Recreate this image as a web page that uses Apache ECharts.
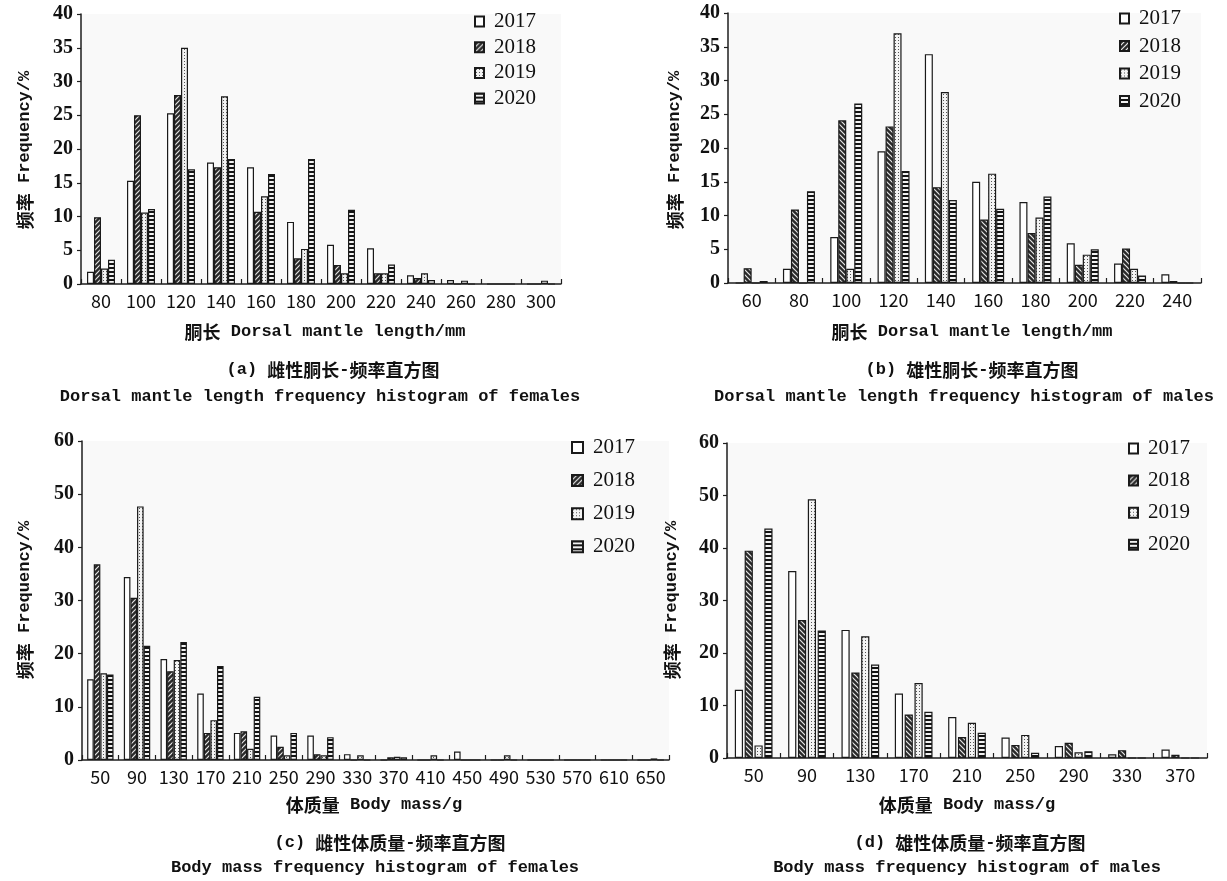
<!DOCTYPE html>
<html><head><meta charset="utf-8">
<script src="https://cdn.jsdelivr.net/npm/echarts@6/dist/echarts.min.js"></script>
<style>html,body{margin:0;padding:0;background:#fff}#c{width:1227px;height:881px}</style>
</head><body><div id="c"></div>
<script>
// ---------- data ----------
const years = ['2017', '2018', '2019', '2020'];

// (a) female dorsal mantle length
const catsA = ['80','100','120','140','160','180','200','220','240','260','280','300'];
const a2017 = [1.8, 15.3, 25.3, 18.0, 17.3, 9.2, 5.8, 5.3, 1.3, 0.6, 0, 0];
const a2018 = [9.9, 25.0, 28.0, 17.3, 10.7, 3.8, 2.8, 1.6, 0.9, 0, 0, 0];
const a2019 = [2.3, 10.6, 35.0, 27.8, 13.0, 5.2, 1.6, 1.6, 1.6, 0.5, 0, 0.5];
const a2020 = [3.6, 11.1, 17.0, 18.5, 16.3, 18.5, 11.0, 2.9, 0.6, 0, 0, 0];

// (b) male dorsal mantle length
const catsB = ['60','80','100','120','140','160','180','200','220','240'];
const b2017 = [0, 2.1, 6.8, 19.5, 33.9, 15.0, 12.0, 5.9, 2.9, 1.3];
const b2018 = [2.2, 10.9, 24.1, 23.2, 14.2, 9.4, 7.4, 2.7, 5.1, 0.3];
const b2019 = [0, 0, 2.1, 37.0, 28.3, 16.2, 9.7, 4.2, 2.1, 0];
const b2020 = [0.3, 13.6, 26.6, 16.6, 12.3, 11.0, 12.8, 5.0, 1.1, 0];

// (c) female body mass
const catsC = ['50','90','130','170','210','250','290','330','370','410','450','490','530','570','610','650'];
const c2017 = [15.2, 34.4, 19.0, 12.5, 5.1, 4.6, 4.6, 1.1, 0, 0, 1.6, 0, 0, 0, 0, 0];
const c2018 = [36.8, 30.5, 16.7, 5.1, 5.4, 2.5, 1.1, 0, 0.5, 0, 0, 0, 0, 0, 0, 0];
const c2019 = [16.3, 47.7, 18.8, 7.5, 2.1, 0.9, 0.9, 0.9, 0.6, 0.9, 0, 0.9, 0, 0, 0, 0.3];
const c2020 = [16.1, 21.5, 22.2, 17.7, 11.9, 5.1, 4.3, 0, 0.5, 0, 0, 0, 0, 0, 0, 0];

// (d) male body mass
const catsD = ['50','90','130','170','210','250','290','330','370'];
const d2017 = [13.0, 35.6, 24.4, 12.3, 7.8, 3.9, 2.3, 0.7, 1.6];
const d2018 = [39.5, 26.3, 16.3, 8.3, 4.0, 2.5, 2.9, 1.5, 0.6];
const d2019 = [2.4, 49.3, 23.2, 14.3, 6.7, 4.4, 1.1, 0, 0];
const d2020 = [43.7, 24.3, 17.8, 8.8, 4.8, 1.0, 1.3, 0, 0];

// ---------- patterns ----------
function hatch(dir) {
  const s = 5, c = document.createElement('canvas');
  c.width = c.height = s;
  const g = c.getContext('2d');
  g.fillStyle = '#2a2a2a'; g.fillRect(0, 0, s, s);
  g.strokeStyle = '#e6e6e6'; g.lineWidth = 1.2; g.beginPath();
  if (dir > 0) {
    g.moveTo(0, s); g.lineTo(s, 0);
    g.moveTo(-1, 1); g.lineTo(1, -1);
    g.moveTo(s - 1, s + 1); g.lineTo(s + 1, s - 1);
  } else {
    g.moveTo(0, 0); g.lineTo(s, s);
    g.moveTo(-1, s - 1); g.lineTo(1, s + 1);
    g.moveTo(s - 1, -1); g.lineTo(s + 1, 1);
  }
  g.stroke();
  return { image: c, repeat: 'repeat' };
}
function dots() {
  const s = 3, c = document.createElement('canvas');
  c.width = c.height = s;
  const g = c.getContext('2d');
  g.fillStyle = '#f3f3f3'; g.fillRect(0, 0, s, s);
  g.fillStyle = '#555'; g.fillRect(1, 1, 1, 1);
  return { image: c, repeat: 'repeat' };
}
function stripes() {
  const s = 4, c = document.createElement('canvas');
  c.width = c.height = s;
  const g = c.getContext('2d');
  g.fillStyle = '#141414'; g.fillRect(0, 0, s, s);
  g.fillStyle = '#f2f2f2'; g.fillRect(0, 1, s, 2);
  return { image: c, repeat: 'repeat' };
}

const panels = [
  { cats: catsA, vals: [a2017, a2018, a2019, a2020], grid: { left: 81, top: 14, width: 480, height: 270 }, max: 40, step: 5, bw: 7, gap: '0%', dir: 1,
    legend: { left: 469, top: 6, gap: 4.7, iw: 9, ih: 10 } },
  { cats: catsB, vals: [b2017, b2018, b2019, b2020], grid: { left: 728, top: 13, width: 473, height: 270 }, max: 40, step: 5, bw: 8, gap: '0%', dir: -1,
    legend: { left: 1114, top: 3, gap: 6.5, iw: 9, ih: 10 } },
  { cats: catsC, vals: [c2017, c2018, c2019, c2020], grid: { left: 82, top: 441, width: 587, height: 319 }, max: 60, step: 10, bw: 6.6, gap: '0%', dir: 1,
    legend: { left: 566, top: 432, gap: 12.1, iw: 11, ih: 11 } },
  { cats: catsD, vals: [d2017, d2018, d2019, d2020], grid: { left: 727, top: 443, width: 480, height: 315 }, max: 60, step: 10, bw: 8.2, gap: '20%', dir: -1,
    legend: { left: 1123, top: 433, gap: 11.1, iw: 9, ih: 10 } }
];

const axisColor = '#1e1e1e';
const serif = "'Liberation Serif', 'DejaVu Serif', serif";
const narrow = "'Liberation Sans Narrow', 'Noto Sans CJK SC', sans-serif";

const grids = [], xAxes = [], yAxes = [], series = [], legends = [];
panels.forEach((p, i) => {
  grids.push(Object.assign({ show: true, backgroundColor: '#f9f9f9', borderWidth: 0 }, p.grid));
  xAxes.push({
    type: 'category', gridIndex: i, data: p.cats,
    axisLine: { show: true, lineStyle: { color: axisColor, width: 1.5 } },
    axisTick: { show: true, inside: true, length: 5, interval: 0, lineStyle: { color: axisColor, width: 1.2 } },
    axisLabel: { interval: 0, margin: 8, color: '#111', fontSize: 18, fontFamily: narrow },
    splitLine: { show: false }
  });
  yAxes.push({
    type: 'value', gridIndex: i, min: 0, max: p.max, interval: p.step,
    axisLine: { show: true, lineStyle: { color: axisColor, width: 1.5 } },
    axisTick: { show: true, inside: false, length: 4, lineStyle: { color: axisColor, width: 1.2 } },
    axisLabel: { margin: 8, color: '#111', fontSize: 20, fontWeight: 'bold', fontFamily: serif },
    splitLine: { show: false }
  });
  const fills = ['#ffffff', hatch(p.dir), dots(), stripes()];
  years.forEach((y, k) => {
    series.push({
      type: 'bar', name: y, xAxisIndex: i, yAxisIndex: i, data: p.vals[k],
      barWidth: p.bw, barGap: p.gap, silent: true,
      itemStyle: { color: fills[k], borderColor: '#1a1a1a', borderWidth: 1.2 }
    });
  });
  legends.push({
    orient: 'vertical', left: p.legend.left, top: p.legend.top, itemGap: p.legend.gap,
    itemWidth: p.legend.iw, itemHeight: p.legend.ih, data: years, selectedMode: false,
    icon: 'rect',
    textStyle: { fontFamily: serif, fontSize: 21, color: '#111', lineHeight: 20, padding: [0, 0, 0, 5] }
  });
});

const rich = {
  cn: { fontFamily: "'Noto Sans CJK SC', sans-serif", fontWeight: 'bold', fontSize: 18, fill: '#111' },
  en: { fontFamily: "'Liberation Mono', 'DejaVu Sans Mono', monospace", fontWeight: 'bold', fontSize: 17, fill: '#111' }
};
function txt(x, y, s, rot) {
  return {
    type: 'text', x: x, y: y, rotation: rot || 0, silent: true,
    style: { text: s, rich: rich, align: 'center', verticalAlign: 'middle', fill: '#111' }
  };
}
const graphics = [
  txt(25, 150, '{cn|频率}{en| Frequency/%}', Math.PI / 2),
  txt(675, 150, '{cn|频率}{en| Frequency/%}', Math.PI / 2),
  txt(25, 600, '{cn|频率}{en| Frequency/%}', Math.PI / 2),
  txt(672, 600, '{cn|频率}{en| Frequency/%}', Math.PI / 2),

  txt(325, 332, '{cn|胴长}{en| Dorsal mantle length/mm}'),
  txt(333, 370, '{en|(a) }{cn|雌性胴长}{en|-}{cn|频率直方图}'),
  txt(320, 397, '{en|Dorsal mantle length frequency histogram of females}'),

  txt(972, 332, '{cn|胴长}{en| Dorsal mantle length/mm}'),
  txt(972, 370, '{en|(b) }{cn|雄性胴长}{en|-}{cn|频率直方图}'),
  txt(964, 397, '{en|Dorsal mantle length frequency histogram of males}'),

  txt(374, 805, '{cn|体质量}{en| Body mass/g}'),
  txt(390, 843, '{en|(c) }{cn|雌性体质量}{en|-}{cn|频率直方图}'),
  txt(375, 868, '{en|Body mass frequency histogram of females}'),

  txt(967, 805, '{cn|体质量}{en| Body mass/g}'),
  txt(970, 843, '{en|(d) }{cn|雄性体质量}{en|-}{cn|频率直方图}'),
  txt(967, 868, '{en|Body mass frequency histogram of males}')
];

const chart = echarts.init(document.getElementById('c'), null, { renderer: 'canvas' });
chart.setOption({
  backgroundColor: '#ffffff',
  animation: false,
  grid: grids, xAxis: xAxes, yAxis: yAxes, series: series, legend: legends,
  graphic: graphics
});
</script>
</body></html>
